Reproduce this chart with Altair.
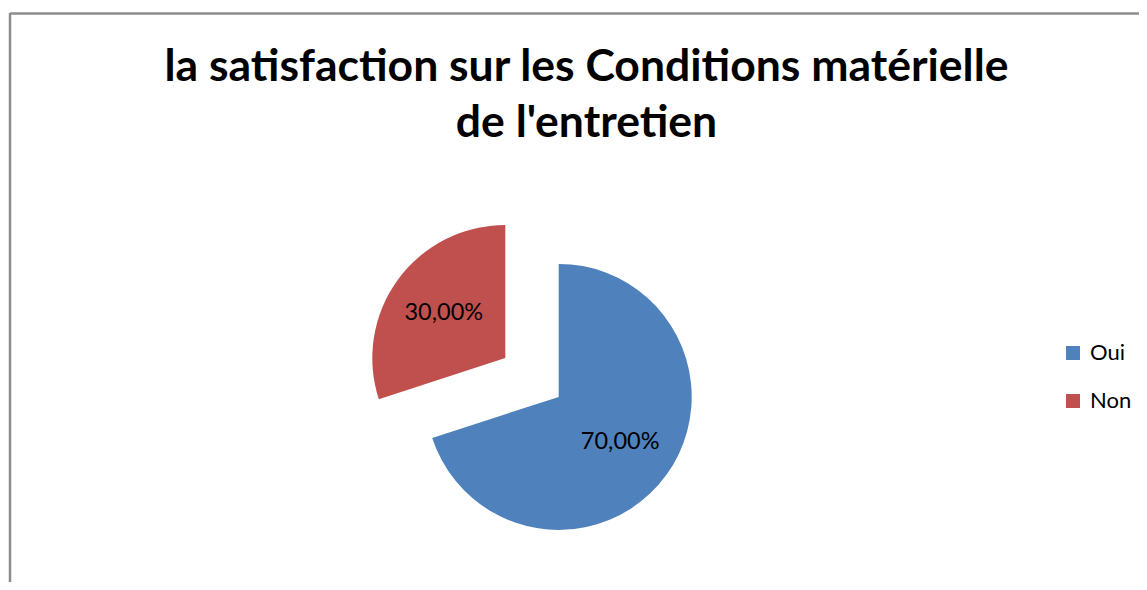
import altair as alt
import pandas as pd

# ---- data ----
CATEGORIES = ["Oui", "Non"]
VALUES = [70, 30]
ORDER = [0, 1]
COLORS = ["#4F81BD", "#C0504D"]
TITLE_LINES = ["la satisfaction sur les Conditions matérielle", "de l'entretien"]

# ---- layout constants (pixels in view space) ----
W, H = 1131, 574
CX, CY = 524, 369.5      # centre of un-exploded pie
R = 133                  # pie radius
EXPLODE = 33             # explode distance
LABEL_R = 76
FONT = "Lato"

df = pd.DataFrame({"category": CATEGORIES, "value": VALUES, "order": ORDER})

base = (
    alt.Chart(df)
    .transform_joinaggregate(total="sum(value)")
    .transform_window(cum="sum(value)", sort=[alt.SortField("order")])
    .transform_calculate(
        mid="(datum.cum - datum.value / 2) / datum.total * 2 * PI",
        cx=f"{CX} + {EXPLODE} * sin(datum.mid)",
        cy=f"{CY} - {EXPLODE} * cos(datum.mid)",
        label="replace(format(datum.value / datum.total, '.2%'), '.', ',')",
    )
)

enc = dict(
    theta=alt.Theta("value:Q", stack=True),
    order=alt.Order("order:Q"),
    x=alt.X("cx:Q", scale=None),
    y=alt.Y("cy:Q", scale=None),
)

pie = base.mark_arc(radius=R).encode(
    color=alt.Color(
        "category:N",
        scale=alt.Scale(domain=CATEGORIES, range=COLORS),
        sort=CATEGORIES,
        legend=alt.Legend(
            title=None,
            orient="none",
            legendX=1054,
            legendY=334,
            symbolType="square",
            symbolSize=196,
            symbolStrokeWidth=0,
            labelFontSize=22,
            labelFont=FONT,
            labelColor="#000000",
            labelOffset=6,
            rowPadding=26,
            padding=0,
        ),
    ),
    **enc,
)

labels = base.mark_text(radius=LABEL_R, fontSize=23.5, font=FONT, color="#000000").encode(
    text="label:N", **enc
)

title = (
    alt.Chart(pd.DataFrame({"t": ["\n".join(TITLE_LINES)]}))
    .mark_text(
        lineBreak="\n",
        lineHeight=56,
        fontSize=44.5,
        font=FONT,
        fontWeight="bold",
        color="#000000",
        align="center",
        baseline="alphabetic",
    )
    .encode(text="t:N", x=alt.value(578.5), y=alt.value(73))
)

frame_df = pd.DataFrame({"a": [0]})
left_border = alt.Chart(frame_df).mark_rule(color="#8c8c8c", strokeWidth=2.5).encode(
    x=alt.value(2), y=alt.value(5), y2=alt.value(H)
)
top_border = alt.Chart(frame_df).mark_rule(color="#8c8c8c", strokeWidth=2.5).encode(
    x=alt.value(2), x2=alt.value(W), y=alt.value(5.5)
)

chart = (
    alt.layer(left_border, top_border, title, pie, labels)
    .properties(width=W, height=H, padding=0, autosize=alt.AutoSizeParams(type="none"), background="white")
    .configure_view(stroke=None)
)

chart.save("out.html", embed_options={"renderer": "svg", "actions": False})
